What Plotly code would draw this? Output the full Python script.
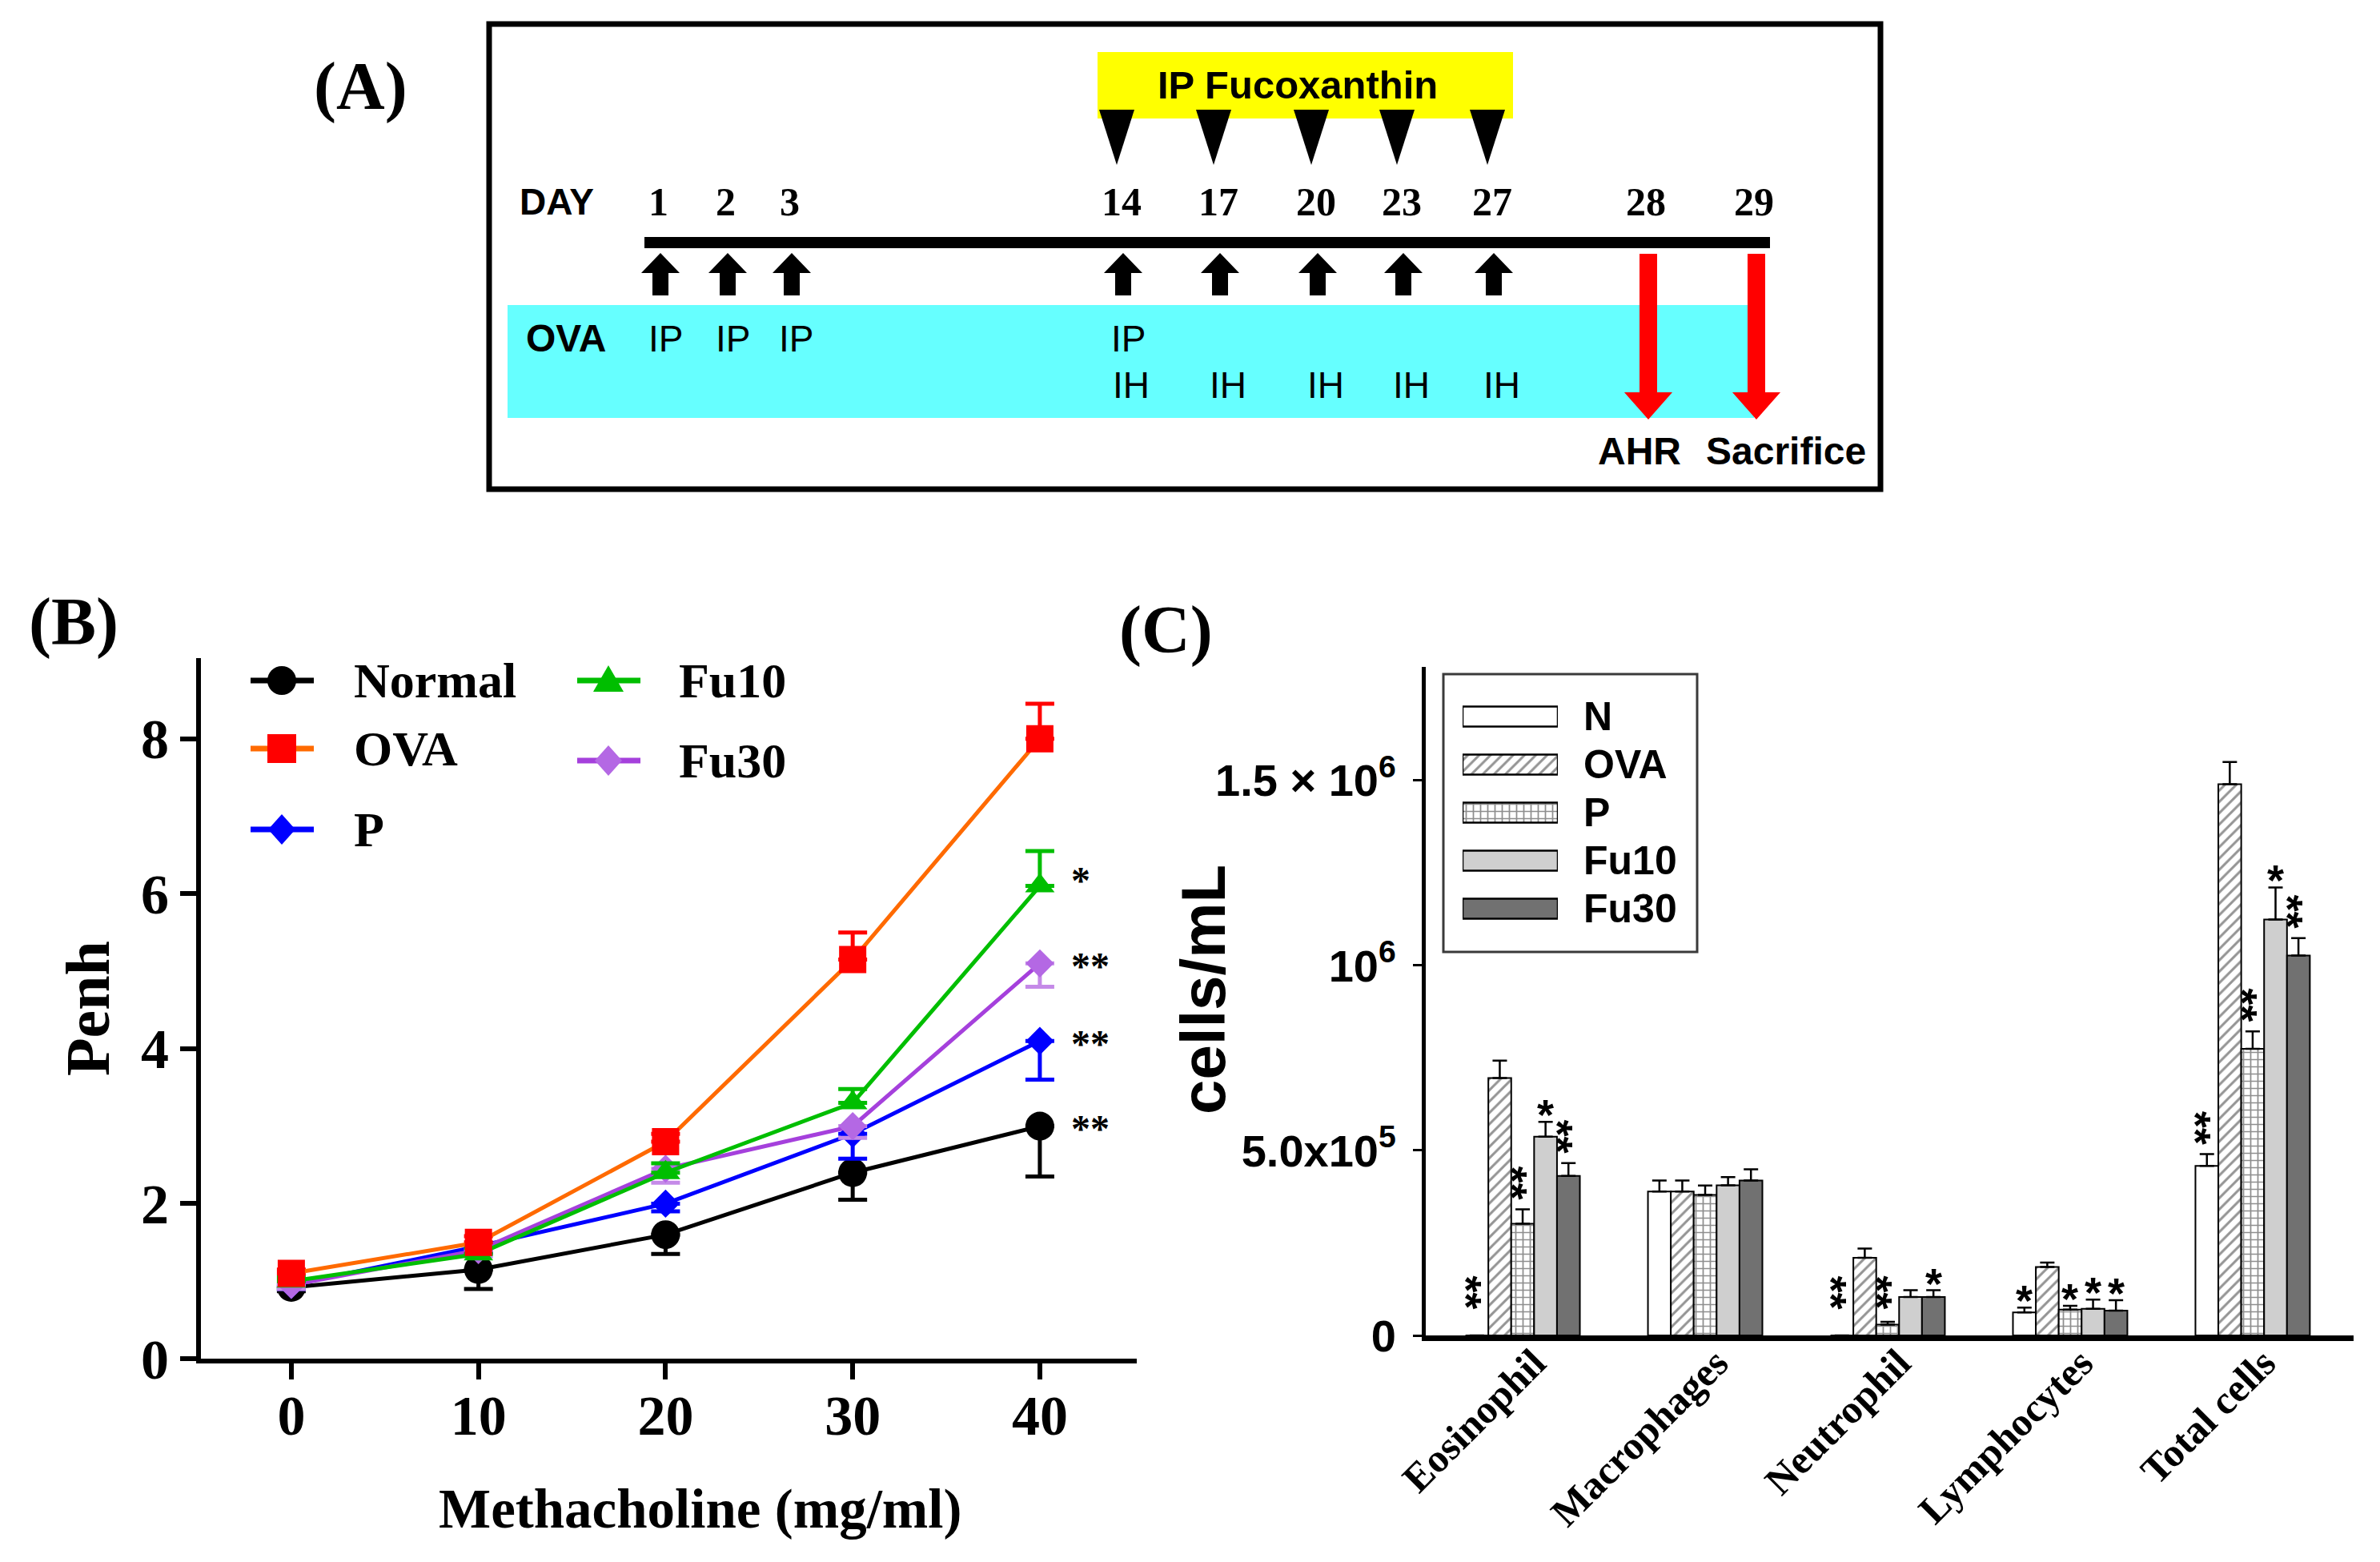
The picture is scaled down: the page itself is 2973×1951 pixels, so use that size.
import plotly.graph_objects as go

W, H = 2973, 1951
OFF = 8  # page body margin of the written html
SERIF = "Liberation Serif"
SANS = "Liberation Sans"

# ---------------- Panel A: protocol schedule (text content) ----------------
day_labels = ["1", "2", "3", "14", "17", "20", "23", "27", "28", "29"]
ova_ip_days = ["1", "2", "3", "14"]
ova_ih_days = ["14", "17", "20", "23", "27"]
ova_days = ["1", "2", "3", "14", "17", "20", "23", "27"]
fuco_days = ["14", "17", "20", "23", "27"]
readout_days = ["28", "29"]
readout_labels = ["AHR", "Sacrifice"]

# ---------------- Panel B data: Penh vs methacholine ----------------
doses = [0, 10, 20, 30, 40]
penh_normal = [0.92, 1.15, 1.60, 2.40, 3.00]
penh_normal_err = [0.05, 0.25, 0.25, 0.35, 0.65]
penh_ova = [1.10, 1.50, 2.80, 5.15, 8.00]
penh_ova_err = [0.05, 0.08, 0.10, 0.35, 0.45]
penh_p = [0.95, 1.45, 2.00, 2.90, 4.10]
penh_p_err = [0.05, 0.08, 0.10, 0.32, 0.50]
penh_fu10 = [1.00, 1.35, 2.40, 3.30, 6.10]
penh_fu10_err = [0.05, 0.08, 0.12, 0.18, 0.45]
penh_fu30 = [0.95, 1.40, 2.45, 3.00, 5.10]
penh_fu30_err = [0.05, 0.08, 0.18, 0.15, 0.30]
penh_sig_at_40 = {"Normal": "**", "P": "**", "Fu30": "**", "Fu10": "*", "OVA": ""}

# ---------------- Panel C data: BALF cells ----------------
cell_types = ["Eosinophil", "Macrophages", "Neutrophil", "Lymphocytes", "Total cells"]
groups_c = ["N", "OVA", "P", "Fu10", "Fu30"]
cells_n = [0, 3.89e5, 0, 0.62e5, 4.58e5]
cells_n_err = [0, 0.30e5, 0, 0.13e5, 0.32e5]
cells_ova = [6.96e5, 3.89e5, 2.10e5, 1.85e5, 14.9e5]
cells_ova_err = [0.47e5, 0.30e5, 0.25e5, 0.12e5, 0.60e5]
cells_p = [3.02e5, 3.80e5, 0.29e5, 0.70e5, 7.75e5]
cells_p_err = [0.39e5, 0.25e5, 0.08e5, 0.10e5, 0.47e5]
cells_fu10 = [5.37e5, 4.06e5, 1.04e5, 0.72e5, 11.24e5]
cells_fu10_err = [0.40e5, 0.22e5, 0.18e5, 0.25e5, 0.87e5]
cells_fu30 = [4.31e5, 4.19e5, 1.04e5, 0.67e5, 10.27e5]
cells_fu30_err = [0.35e5, 0.30e5, 0.18e5, 0.28e5, 0.47e5]
sig_n = ["**", "", "**", "*", "**"]
sig_ova = ["", "", "", "", ""]
sig_p = ["**", "", "**", "*", "**"]
sig_fu10 = ["*", "", "", "*", "*"]
sig_fu30 = ["**", "", "*", "*", "**"]
c_yticks = [0, 5e5, 1e6, 1.5e6]
c_yticktext = ["0", "5.0x10<sup>5</sup>", "10<sup>6</sup>", "1.5 × 10<sup>6</sup>"]


# ---------------- helpers (pixel -> paper) ----------------
def P(x):
    return (x - OFF) / W


def Q(y):
    return 1 - (y - OFF) / H


def poly(points):
    return "M " + " L ".join(f"{P(x):.5f},{Q(y):.5f}" for x, y in points) + " Z"


shapes = []
annotations = []


def text(x, y, s, size, family=SANS, bold=True, color="black", xanchor="center",
         yanchor="middle", textangle=0):
    annotations.append(dict(
        x=P(x), y=Q(y), xref="paper", yref="paper", text=s, showarrow=False,
        xanchor=xanchor, yanchor=yanchor, textangle=textangle,
        font=dict(family=family, size=size, color=color, weight="bold" if bold else "normal")))


# ================= Panel A (schematic) =================
# layout positions (px) of day columns in the schematic
day_x = dict(zip(day_labels, [823, 907, 987, 1401, 1522, 1644, 1751, 1864, 2056, 2191]))

# outer frame
shapes.append(dict(type="rect", xref="paper", yref="paper", x0=P(611), x1=P(2349), y0=Q(30), y1=Q(611),
                   line=dict(color="black", width=7), fillcolor="rgba(0,0,0,0)"))
# cyan OVA band
shapes.append(dict(type="rect", xref="paper", yref="paper", x0=P(634), x1=P(2191), y0=Q(381), y1=Q(522),
                   line=dict(width=0), fillcolor="#66FFFF"))
# yellow fucoxanthin box
shapes.append(dict(type="rect", xref="paper", yref="paper", x0=P(1371), x1=P(1890), y0=Q(65), y1=Q(148),
                   line=dict(width=0), fillcolor="#FFFF00"))
text(1621, 106, "IP Fucoxanthin", 49)
# down triangles for fucoxanthin injections
for d in fuco_days:
    cx = day_x[d] - 6
    shapes.append(dict(type="path", xref="paper", yref="paper",
                       path=poly([(cx - 22, 137), (cx + 22, 137), (cx, 206)]),
                       fillcolor="black", line=dict(width=0)))
# DAY row
text(695, 252, "DAY", 46)
for d in day_labels:
    text(day_x[d], 252, d, 50, family=SERIF)
# time line
shapes.append(dict(type="rect", xref="paper", yref="paper", x0=P(805), x1=P(2211), y0=Q(296), y1=Q(310),
                   line=dict(width=0), fillcolor="black"))
# up arrows for OVA sensitisation/challenge
for d in ova_days:
    cx = day_x[d] + 2
    yt, yb = 316, 369
    shapes.append(dict(type="path", xref="paper", yref="paper",
                       path=poly([(cx, yt), (cx + 24, yt + 25), (cx + 10, yt + 25), (cx + 10, yb),
                                  (cx - 10, yb), (cx - 10, yt + 25), (cx - 24, yt + 25)]),
                       fillcolor="black", line=dict(width=0)))
# OVA text
text(707, 423, "OVA", 48)
for d in ova_ip_days:
    text(day_x[d] + 8, 423, "IP", 46, bold=False)
for d in ova_ih_days:
    text(day_x[d] + 12, 481, "IH", 46, bold=False)
# red arrows (AHR, sacrifice)
for d, lab, lx in zip(readout_days, readout_labels, [2048, 2231]):
    cx = day_x[d] + 3
    yt, tip = 317, 524
    shapes.append(dict(type="path", xref="paper", yref="paper",
                       path=poly([(cx - 11, yt), (cx + 11, yt), (cx + 11, tip - 34), (cx + 30, tip - 34),
                                  (cx, tip), (cx - 30, tip - 34), (cx - 11, tip - 34)]),
                       fillcolor="#FF0000", line=dict(width=0)))
    text(lx, 563, lab, 48)

# panel letters
text(450, 108, "(A)", 84, family=SERIF)
text(92, 777, "(B)", 84, family=SERIF)
text(1456, 787, "(C)", 84, family=SERIF)

fig = go.Figure()

# ================= Panel B =================
zeros5 = [0] * len(doses)


def err_kw(err, direction, color, thick=5, width=18):
    if direction == "up":
        return dict(type="data", symmetric=False, array=err, arrayminus=zeros5,
                    color=color, thickness=thick, width=width)
    return dict(type="data", symmetric=False, array=zeros5, arrayminus=err,
                color=color, thickness=thick, width=width)


b_series = [
    dict(name="Normal", y=penh_normal, e=penh_normal_err, d="down", lc="#000000", mc="#000000",
         ec="#000000", sym="circle", size=36),
    dict(name="P", y=penh_p, e=penh_p_err, d="down", lc="#0000FF", mc="#0000FF",
         ec="#0000FF", sym="diamond", size=27),
    dict(name="Fu30", y=penh_fu30, e=penh_fu30_err, d="down", lc="#A540DC", mc="#B468E4",
         ec="#C58AE8", sym="diamond", size=27),
    dict(name="Fu10", y=penh_fu10, e=penh_fu10_err, d="up", lc="#00BE00", mc="#00BE00",
         ec="#00BE00", sym="triangle-up", size=32),
    dict(name="OVA", y=penh_ova, e=penh_ova_err, d="up", lc="#FF6A00", mc="#FF0000",
         ec="#FF0000", sym="square", size=34),
]
for s in b_series:
    fig.add_trace(go.Scatter(
        x=doses, y=s["y"], name=s["name"], mode="lines+markers",
        line=dict(color=s["lc"], width=5),
        marker=dict(color=s["mc"], symbol=s["sym"], size=s["size"], line=dict(width=0)),
        error_y=err_kw(s["e"], s["d"], s["ec"]),
        xaxis="x", yaxis="y", showlegend=False, cliponaxis=False))
    sig = penh_sig_at_40[s["name"]]
    if sig:
        annotations.append(dict(x=doses[-1], y=s["y"][-1], xref="x", yref="y", text=sig,
                                showarrow=False, xanchor="left", yanchor="middle", xshift=37,
                                yshift=7 if len(sig) == 1 else -3,
                                font=dict(family=SERIF, size=48, color="black", weight="bold")))

# x-axis title for panel B
text(874, 1885, "Methacholine (mg/ml)", 69, family=SERIF)

# custom legend for panel B
legend_b = [
    ("Normal", 313, 392, 352, 850, 440),
    ("OVA", 313, 392, 352, 935, 440),
    ("P", 313, 392, 352, 1036, 440),
    ("Fu10", 721, 800, 760, 850, 846),
    ("Fu30", 721, 800, 760, 950, 846),
]
style_b = {s["name"]: s for s in b_series}
for name, lx0, lx1, mx, my, tx in legend_b:
    s = style_b[name]
    shapes.append(dict(type="line", xref="paper", yref="paper", x0=P(lx0), x1=P(lx1), y0=Q(my), y1=Q(my),
                       line=dict(color=s["lc"], width=7)))
    if s["sym"] == "circle":
        shapes.append(dict(type="circle", xref="paper", yref="paper", x0=P(mx - 18), x1=P(mx + 18),
                           y0=Q(my - 18), y1=Q(my + 18), fillcolor=s["mc"], line=dict(width=0)))
    elif s["sym"] == "square":
        shapes.append(dict(type="rect", xref="paper", yref="paper", x0=P(mx - 18), x1=P(mx + 18),
                           y0=Q(my - 18), y1=Q(my + 18), fillcolor=s["mc"], line=dict(width=0)))
    elif s["sym"] == "diamond":
        shapes.append(dict(type="path", xref="paper", yref="paper",
                           path=poly([(mx, my - 19), (mx + 17, my), (mx, my + 19), (mx - 17, my)]),
                           fillcolor=s["mc"], line=dict(width=0)))
    else:
        shapes.append(dict(type="path", xref="paper", yref="paper",
                           path=poly([(mx, my - 19), (mx + 19, my + 14), (mx - 19, my + 14)]),
                           fillcolor=s["mc"], line=dict(width=0)))
    text(tx, my, name, 62, family=SERIF, xanchor="left")

# ================= Panel C =================
c_series = [
    ("N", cells_n, cells_n_err, sig_n, dict(color="white")),
    ("OVA", cells_ova, cells_ova_err, sig_ova,
     dict(color="white", pattern=dict(shape="/", fgcolor="#2a2a2a", bgcolor="white", size=10, solidity=0.3))),
    ("P", cells_p, cells_p_err, sig_p,
     dict(color="white", pattern=dict(shape="+", fgcolor="#1e1e1e", bgcolor="white", size=9, solidity=0.35))),
    ("Fu10", cells_fu10, cells_fu10_err, sig_fu10, dict(color="#CFCFCF")),
    ("Fu30", cells_fu30, cells_fu30_err, sig_fu30, dict(color="#717171")),
]
BARGAP = 0.373
nser = len(c_series)
bw = (1 - BARGAP) / nser
for j, (name, vals, errs, sigs, mk) in enumerate(c_series):
    fig.add_trace(go.Bar(
        x=cell_types, y=vals, name=name, xaxis="x2", yaxis="y2", showlegend=False,
        marker=dict(line=dict(color="black", width=2), **mk),
        error_y=dict(type="data", symmetric=False, array=errs, arrayminus=[0] * len(errs),
                     color="black", thickness=2.5, width=9)))
    for i, sg in enumerate(sigs):
        if not sg:
            continue
        base = max(vals[i] + errs[i], 0.45e5)
        xpos = i + (j - (nser - 1) / 2) * bw
        if len(sg) == 1:
            annotations.append(dict(x=xpos, y=base, xref="x2", yref="y2", text=sg, showarrow=False,
                                    xanchor="center", yanchor="middle", yshift=9,
                                    font=dict(family=SANS, size=54, color="black", weight="bold")))
        else:
            # stacked significance marks, drawn as rotated text
            annotations.append(dict(x=xpos, y=base, xref="x2", yref="y2", text=sg, showarrow=False,
                                    xanchor="center", yanchor="bottom", textangle=90, xshift=-13, yshift=11,
                                    borderpad=0,
                                    font=dict(family=SANS, size=54, color="black", weight="bold")))

# custom legend for panel C (swatches drawn as bars on a small helper axis)
shapes.append(dict(type="rect", xref="paper", yref="paper", x0=P(1803), x1=P(2120), y0=Q(842), y1=Q(1189),
                   line=dict(color="#3a3a3a", width=3), fillcolor="white", layer="below"))
for j, (name, vals, errs, sigs, mk) in enumerate(c_series):
    fig.add_trace(go.Bar(
        x=[1], y=[name], orientation="h", xaxis="x3", yaxis="y3", showlegend=False,
        width=0.42, offset=-0.21, hoverinfo="skip",
        marker=dict(line=dict(color="black", width=2.5), **mk)))
    text(1976, 895 + 60 * j, name, 50, xanchor="left")

# y-axis title for panel C
text(1503, 1236, "cells/mL", 78, textangle=-90)

fig.update_layout(
    width=W, height=H, margin=dict(l=0, r=0, t=0, b=0, pad=0, autoexpand=False),
    paper_bgcolor="white", plot_bgcolor="rgba(0,0,0,0)",
    showlegend=False, barmode="group", bargap=BARGAP, bargroupgap=0,
    shapes=shapes, annotations=annotations,
    xaxis=dict(domain=[P(251), P(1420)], range=[-4.83, 45.18], tickvals=doses, automargin=False,
               showgrid=False, zeroline=False, showline=True, linecolor="black", linewidth=6,
               ticks="outside", ticklen=20, tickwidth=6, tickcolor="black", ticklabelstandoff=-15,
               tickfont=dict(family=SERIF, size=70, color="black", weight="bold"),
               anchor="y"),
    yaxis=dict(domain=[Q(1697), Q(822)], range=[0, 9.04], tickvals=[0, 2, 4, 6, 8], automargin=False,
               showgrid=False, zeroline=False, showline=True, linecolor="black", linewidth=6,
               ticks="outside", ticklen=20, tickwidth=6, tickcolor="black",
               tickfont=dict(family=SERIF, size=70, color="black", weight="bold"),
               title=dict(text="Penh", standoff=16,
                          font=dict(family=SERIF, size=78, color="black", weight="bold")),
               anchor="x"),
    xaxis2=dict(domain=[P(1781), P(2940)], type="category", range=[-0.531, 4.553], automargin=False,
                showgrid=False, zeroline=False, showline=True, linecolor="black", linewidth=7,
                ticks="", tickangle=-45, ticklabelstandoff=-22, ticklabelshift=14,
                tickfont=dict(family=SERIF, size=50, color="black", weight="bold"),
                anchor="y2"),
    yaxis2=dict(domain=[Q(1668), Q(833)], range=[0, 1.807e6], tickvals=c_yticks, ticktext=c_yticktext,
                automargin=False, ticklabelstandoff=10,
                showgrid=False, zeroline=False, showline=True, linecolor="black", linewidth=5,
                ticks="outside", ticklen=11, tickwidth=3, tickcolor="black",
                tickfont=dict(family=SANS, size=56, color="black", weight="bold"),
                anchor="x2"),
    xaxis3=dict(domain=[P(1827), P(1946)], range=[0, 1], visible=False, fixedrange=True, anchor="y3"),
    yaxis3=dict(domain=[Q(1165), Q(865)], type="category", range=[4.5, -0.5], visible=False,
                fixedrange=True, anchor="x3"),
)

fig.write_html("out.html")
